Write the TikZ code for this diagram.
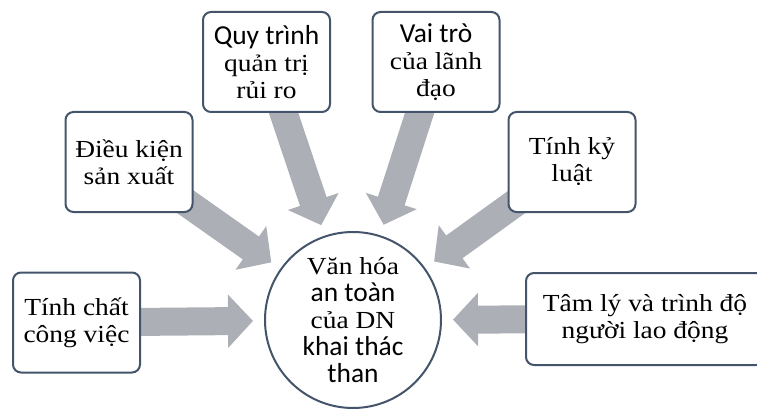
\documentclass[tikz,border=0pt]{standalone}
\usepackage{fontspec}
\setmainfont{Liberation Serif}[FakeStretch=1.12]
\newfontfamily\sansf{Carlito}[Scale=1.12]
\usetikzlibrary{arrows.meta,backgrounds}
\definecolor{boxc}{HTML}{44546A}
\definecolor{arrc}{RGB}{172,175,182}
\tikzset{
  box/.style={draw=boxc, line width=2pt, rounded corners=8pt, fill=white,
    minimum width=127pt, minimum height=100pt, align=center, inner sep=0pt,
    font=\fontsize{24.5}{27}\selectfont},
  hub/.style={circle, draw=boxc, line width=2pt, fill=white, minimum size=176pt,
    align=center, inner sep=0pt, font=\fontsize{24.5}{27}\selectfont},
  fat/.style={draw=arrc, line width=28pt, -{Triangle[length=25pt,width=52pt]}, shorten >=11pt}
}
\begin{document}
\begin{tikzpicture}[x=1pt,y=-1pt]
\useasboundingbox (0,0) rectangle (757,409);
\node[hub] (hub) at (353,320) {Văn hóa\\{\sansf an toàn}\\của DN\\{\sansf khai thác}\\{\sansf than}};
\node[box] (b1) at (76.5,322.5) {Tính chất\\công việc};
\node[box] (b2) at (129,162) {Điều kiện\\sản xuất};
\node[box] (b3) at (266.5,62) {{\sansf Quy trình}\\quản trị\\rủi ro};
\node[box] (b4) at (436,62) {{\sansf Vai trò}\\của lãnh\\đạo};
\node[box] (b5) at (572,162) {Tính kỷ\\luật};
\node[box, minimum width=238pt, minimum height=92pt] (b6) at (645,319) {Tâm lý và trình độ\\người lao động};
\begin{scope}[on background layer]
\draw[fat] (b1.center) -- (hub);
\draw[fat] (b2.center) -- (hub);
\draw[fat] (b3.center) -- (hub);
\draw[fat] (b4.center) -- (hub);
\draw[fat] (b5.center) -- (hub);
\draw[fat] (b6.center) -- (hub);
\end{scope}
\end{tikzpicture}
\end{document}
